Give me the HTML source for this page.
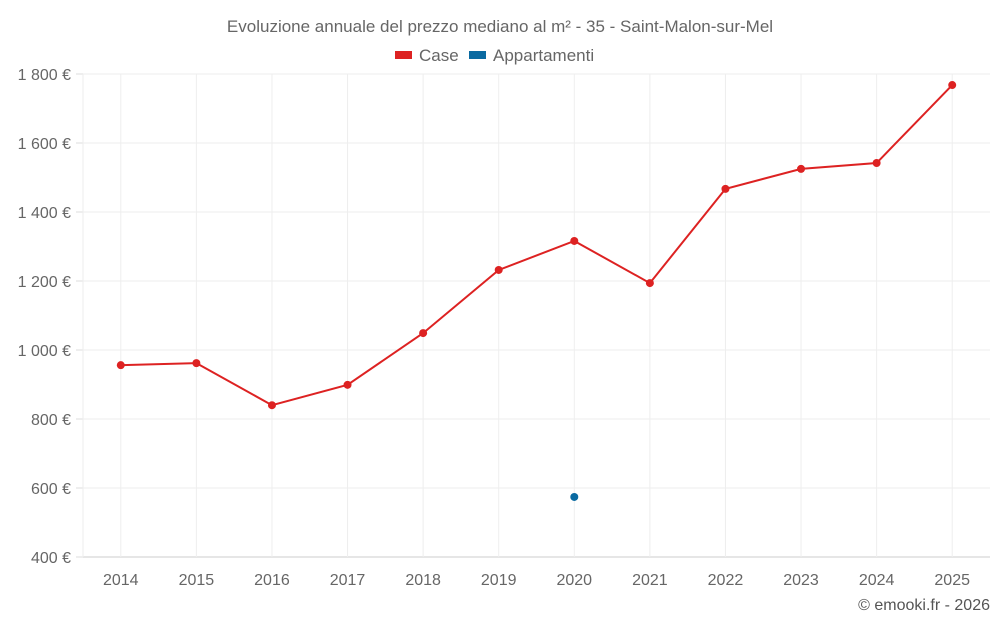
<!DOCTYPE html>
<html><head><meta charset="utf-8"><style>
body{margin:0;background:#fff;font-family:"Liberation Sans",sans-serif;}
svg text{font-family:"Liberation Sans",sans-serif;}
</style></head><body>
<svg id="c" width="1000" height="625">
<text x="500" y="32" text-anchor="middle" font-size="17" fill="#666">Evoluzione annuale del prezzo mediano al m² - 35 - Saint-Malon-sur-Mel</text>
<g><rect x="395" y="51" width="17" height="8" fill="#dd2222"/><text x="419" y="61" font-size="17" fill="#666">Case</text></g>
<g><rect x="469" y="51" width="17" height="8" fill="#0a6aa1"/><text x="493" y="61" font-size="17" fill="#666">Appartamenti</text></g>
<g id="grid"></g><g id="marks"></g>
<text x="990" y="610" text-anchor="end" font-size="16" fill="#555">© emooki.fr - 2026</text>
</svg>
<script>
const years=["2014","2015","2016","2017","2018","2019","2020","2021","2022","2023","2024","2025"];
const caseValues=[956,962,840,899,1049,1232,1316,1194,1467,1525,1542,1768];
const appValues=[null,null,null,null,null,null,574,null,null,null,null,null];
const yTicks=[400,600,800,1000,1200,1400,1600,1800];
const NS="http://www.w3.org/2000/svg";
const L=83,R=990,T=74,B=557,yMin=400,yMax=1800;
const step=(R-L)/years.length;
const x=i=>L+step*(i+0.5);
const y=v=>B-(v-yMin)/(yMax-yMin)*(B-T);
function mk(tag,attrs,parent){const e=document.createElementNS(NS,tag);for(const k in attrs)e.setAttribute(k,attrs[k]);parent.appendChild(e);return e;}
const g=document.getElementById('grid'),m=document.getElementById('marks');
yTicks.forEach(t=>{
  const ln=mk('line',{x1:L,x2:R,y1:y(t),y2:y(t),stroke:t===yMin?'#ccc':'#eee'},g);
  
  
  mk('line',{x1:76,x2:L,y1:y(t),y2:y(t),stroke:'#ddd'},g);
  const tx=mk('text',{x:71,y:y(t)+6,'text-anchor':'end','font-size':16,fill:'#666'},g);
  tx.textContent=t.toLocaleString('fr-FR').replace(/\s/g,' ')+' €';
  
  
});
mk('line',{x1:L,x2:L,y1:T,y2:B,stroke:'#eee'},g);
years.forEach((yr,i)=>{
  const ln=mk('line',{x1:x(i),x2:x(i),y1:T,y2:B,stroke:'#eee'},g);
  
  
  const tx=mk('text',{x:x(i),y:585,'text-anchor':'middle','font-size':16,fill:'#666'},g);
  tx.textContent=yr;
  
  
});
const pts=caseValues.map((v,i)=>v==null?null:x(i)+','+y(v)).filter(Boolean).join(' ');
const pl=mk('polyline',{points:pts,fill:'none',stroke:'#dd2222','stroke-width':2},m);


caseValues.forEach((v,i)=>{if(v==null)return;
  const c=mk('circle',{cx:x(i),cy:y(v),r:4,fill:'#dd2222'},m);
  
  
});
appValues.forEach((v,i)=>{if(v==null)return;
  const c=mk('circle',{cx:x(i),cy:y(v),r:4,fill:'#0a6aa1'},m);
  
  
});
</script>
</body></html>
